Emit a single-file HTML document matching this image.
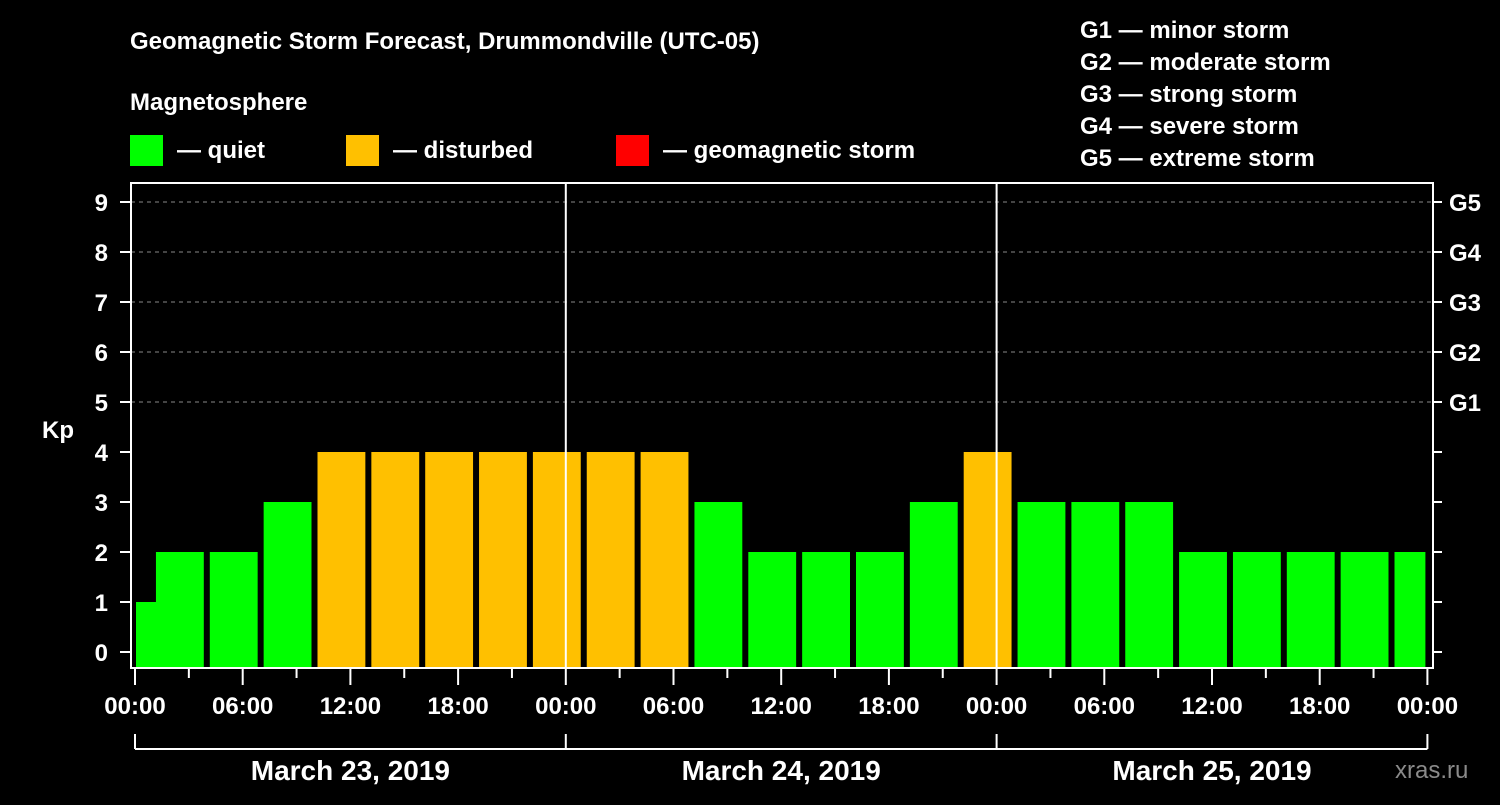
<!DOCTYPE html>
<html><head><meta charset="utf-8"><style>
body{margin:0;background:#000;width:1500px;height:800px;overflow:hidden;font-family:"Liberation Sans",sans-serif;}
svg text{font-family:"Liberation Sans",sans-serif;font-weight:bold;fill:#fff;}
</style></head><body>
<svg id="chart" width="1500" height="800">
<text x="130" y="49" font-size="24">Geomagnetic Storm Forecast, Drummondville (UTC-05)</text>
<text x="130" y="110" font-size="24">Magnetosphere</text>
<rect x="130" y="135" width="33" height="31" fill="#00ff00"/>
<text x="177" y="158" font-size="24">— quiet</text>
<rect x="346" y="135" width="33" height="31" fill="#ffc000"/>
<text x="393" y="158" font-size="24">— disturbed</text>
<rect x="616" y="135" width="33" height="31" fill="#ff0000"/>
<text x="663" y="158" font-size="24">— geomagnetic storm</text>
<g font-size="24">
<text x="1080" y="38">G1 — minor storm</text>
<text x="1080" y="70">G2 — moderate storm</text>
<text x="1080" y="102">G3 — strong storm</text>
<text x="1080" y="134">G4 — severe storm</text>
<text x="1080" y="166">G5 — extreme storm</text>
</g>
<text x="42" y="438" font-size="24">Kp</text>
<text x="1395" y="778" font-size="24" fill="#888" style="fill:#8a8a8a;font-weight:normal">xras.ru</text>
<g id="plot"></g>
</svg>
<script>
const kpValues=[1,2,2,3,4,4,4,4,4,4,4,3,2,2,2,3,4,3,3,3,2,2,2,2,2];
const barStartHours=[0,1,4,7,10,13,16,19,22,25,28,31,34,37,40,43,46,49,52,55,58,61,64,67,70];
const xTickLabels=["00:00","06:00","12:00","18:00","00:00","06:00","12:00","18:00","00:00","06:00","12:00","18:00","00:00"];
const dayLabels=["March 23, 2019","March 24, 2019","March 25, 2019"];
const gLabels=["G1","G2","G3","G4","G5"];
const L=131,R=1433,T=183,B=668,X0=135,PX=17.95;
const xs=h=>X0+h*PX, ys=v=>652-v*50;
const g=document.getElementById('plot');
const NS="http://www.w3.org/2000/svg";
function mk(t,a){const e=document.createElementNS(NS,t);for(const k in a)e.setAttribute(k,a[k]);g.appendChild(e);return e;}
for(let v=5;v<=9;v++){const e=mk('line',{x1:L,x2:R,y1:ys(v),y2:ys(v),stroke:'#888','stroke-dasharray':'4,4'});

}
kpValues.forEach((v,i)=>{const h0=barStartHours[i];const h1=Math.min(h0+3,72);
const x0=xs(h0)+(i==0?1:3),x1=xs(h1)-(h1==72?2:3);
const c=v>=5?'#ff0000':(v>=4?'#ffc000':'#00ff00');
const e=mk('rect',{x:x0,y:ys(v),width:x1-x0,height:B-ys(v),fill:c});

});
[24,48].forEach(h=>{const e=mk('line',{x1:xs(h),x2:xs(h),y1:T,y2:B,stroke:'#fff','stroke-width':2});

});
const fr=mk('rect',{x:L,y:T,width:R-L,height:B-T,fill:'none',stroke:'#fff','stroke-width':2});


for(let v=0;v<=9;v++){mk('line',{x1:120,x2:L,y1:ys(v),y2:ys(v),stroke:'#fff','stroke-width':2});
mk('line',{x1:R,x2:1442,y1:ys(v),y2:ys(v),stroke:'#fff','stroke-width':2});
const t=mk('text',{x:108,y:ys(v)+9,'font-size':24,'text-anchor':'end'});t.textContent=v;

}
gLabels.forEach((s,i)=>{const t=mk('text',{x:1449,y:ys(i+5)+9,'font-size':24});t.textContent=s;

});
for(let h=0;h<=72;h+=3){mk('line',{x1:xs(h),x2:xs(h),y1:B,y2:h%6==0?685:678,stroke:'#fff','stroke-width':2});}
xTickLabels.forEach((s,i)=>{const t=mk('text',{x:xs(i*6),y:714,'font-size':24,'text-anchor':'middle'});t.textContent=s;

});
mk('line',{x1:xs(0),x2:xs(72),y1:749,y2:749,stroke:'#fff','stroke-width':2});
for(let d=0;d<=3;d++)mk('line',{x1:xs(d*24),x2:xs(d*24),y1:734,y2:749,stroke:'#fff','stroke-width':2});
dayLabels.forEach((s,i)=>{const t=mk('text',{x:xs(i*24+12),y:780,'font-size':28,'text-anchor':'middle'});t.textContent=s;

});
</script>
</body></html>
